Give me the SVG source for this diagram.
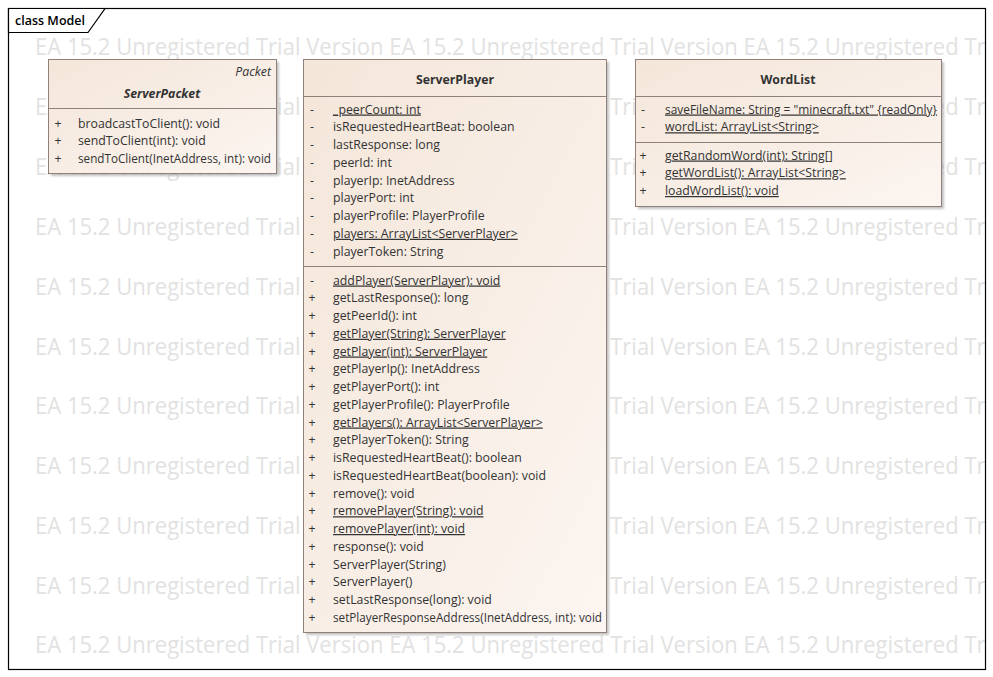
<svg xmlns="http://www.w3.org/2000/svg" width="993" height="677" viewBox="0 0 993 677">
<defs>
<linearGradient id="boxfill" x1="0" y1="0" x2="1" y2="1">
<stop offset="0" stop-color="#f4e6d9"/>
<stop offset="1" stop-color="#fcf5f1"/>
</linearGradient>
<clipPath id="frameclip"><rect x="9" y="9" width="976" height="660"/></clipPath>
<filter id="shadow" x="-10%" y="-10%" width="130%" height="130%">
<feGaussianBlur stdDeviation="1.2"/>
</filter>
<style>
.wm{font-family:"Open Sans","Liberation Sans",sans-serif;font-size:23px;fill:#e2e2e2}
.t{font-family:"Open Sans","Liberation Sans",sans-serif;font-size:12.3px;fill:#333}
.title{font-family:"Open Sans","Liberation Sans",sans-serif;font-size:12.3px;font-weight:bold;fill:#333;text-anchor:middle}
.u{text-decoration:underline}
.box{fill:url(#boxfill);stroke:#8f8079;stroke-width:1}
.sh{fill:#9a9a9a;opacity:0.6;filter:url(#shadow)}
.sep{stroke:#8f8079;stroke-width:1}
.vis{font-family:"Open Sans","Liberation Sans",sans-serif;font-size:12.3px;fill:#333;text-anchor:middle}
</style>
</defs>
<rect x="0" y="0" width="993" height="677" fill="#ffffff"/>
<g id="watermark" clip-path="url(#frameclip)">
<text class="wm" x="35" y="55" textLength="1057" lengthAdjust="spacingAndGlyphs">EA 15.2 Unregistered Trial Version EA 15.2 Unregistered Trial Version EA 15.2 Unregistered Trial Version</text>
<text class="wm" x="35" y="115" textLength="1057" lengthAdjust="spacingAndGlyphs">EA 15.2 Unregistered Trial Version EA 15.2 Unregistered Trial Version EA 15.2 Unregistered Trial Version</text>
<text class="wm" x="35" y="175" textLength="1057" lengthAdjust="spacingAndGlyphs">EA 15.2 Unregistered Trial Version EA 15.2 Unregistered Trial Version EA 15.2 Unregistered Trial Version</text>
<text class="wm" x="35" y="235" textLength="1057" lengthAdjust="spacingAndGlyphs">EA 15.2 Unregistered Trial Version EA 15.2 Unregistered Trial Version EA 15.2 Unregistered Trial Version</text>
<text class="wm" x="35" y="295" textLength="1057" lengthAdjust="spacingAndGlyphs">EA 15.2 Unregistered Trial Version EA 15.2 Unregistered Trial Version EA 15.2 Unregistered Trial Version</text>
<text class="wm" x="35" y="355" textLength="1057" lengthAdjust="spacingAndGlyphs">EA 15.2 Unregistered Trial Version EA 15.2 Unregistered Trial Version EA 15.2 Unregistered Trial Version</text>
<text class="wm" x="35" y="414" textLength="1057" lengthAdjust="spacingAndGlyphs">EA 15.2 Unregistered Trial Version EA 15.2 Unregistered Trial Version EA 15.2 Unregistered Trial Version</text>
<text class="wm" x="35" y="474" textLength="1057" lengthAdjust="spacingAndGlyphs">EA 15.2 Unregistered Trial Version EA 15.2 Unregistered Trial Version EA 15.2 Unregistered Trial Version</text>
<text class="wm" x="35" y="534" textLength="1057" lengthAdjust="spacingAndGlyphs">EA 15.2 Unregistered Trial Version EA 15.2 Unregistered Trial Version EA 15.2 Unregistered Trial Version</text>
<text class="wm" x="35" y="594" textLength="1057" lengthAdjust="spacingAndGlyphs">EA 15.2 Unregistered Trial Version EA 15.2 Unregistered Trial Version EA 15.2 Unregistered Trial Version</text>
<text class="wm" x="35" y="653" textLength="1057" lengthAdjust="spacingAndGlyphs">EA 15.2 Unregistered Trial Version EA 15.2 Unregistered Trial Version EA 15.2 Unregistered Trial Version</text>
</g>
<g id="frame">
<rect x="8.5" y="8.5" width="977" height="661" fill="none" stroke="#000" stroke-width="1.2"/>
<path d="M8.5,8.5 H105 L88,32.5 H8.5 Z" fill="#fff" stroke="#000" stroke-width="1.2"/>
<text x="15" y="25" font-family="'Open Sans','Liberation Sans',sans-serif" font-size="12.5" font-weight="600" fill="#000">class Model</text>
</g>
<g id="connectors"></g>
<g id="ServerPacket">
<rect class="sh" x="51" y="62" width="228" height="114"/>
<rect class="box" x="48.5" y="59.5" width="228" height="114"/>
<line class="sep" x1="48.5" y1="108.5" x2="276.5" y2="108.5"/>
<text class="t" x="271" y="75.5" text-anchor="end" font-style="italic">Packet</text>
<text class="title" x="162" y="97.5" font-style="italic">ServerPacket</text>
<text class="vis" x="58" y="127.5">+</text>
<text class="t" x="78" y="127.5">broadcastToClient(): void</text>
<text class="vis" x="58" y="145">+</text>
<text class="t" x="78" y="145">sendToClient(int): void</text>
<text class="vis" x="58" y="162.5">+</text>
<text class="t" x="78" y="162.5" textLength="193" lengthAdjust="spacingAndGlyphs">sendToClient(InetAddress, int): void</text>
</g>
<g id="ServerPlayer">
<rect class="sh" x="306" y="62" width="303" height="573"/>
<rect class="box" x="303.5" y="59.5" width="303" height="573"/>
<line class="sep" x1="303.5" y1="96.5" x2="606.5" y2="96.5"/>
<line class="sep" x1="303.5" y1="266.5" x2="606.5" y2="266.5"/>
<text class="title" x="455" y="83.5">ServerPlayer</text>
<text class="vis" x="312" y="113.5">-</text><text class="t u" x="333" y="113.5">_peerCount: int</text>
<text class="vis" x="312" y="131.25">-</text><text class="t" x="333" y="131.25">isRequestedHeartBeat: boolean</text>
<text class="vis" x="312" y="149">-</text><text class="t" x="333" y="149">lastResponse: long</text>
<text class="vis" x="312" y="166.75">-</text><text class="t" x="333" y="166.75">peerId: int</text>
<text class="vis" x="312" y="184.5">-</text><text class="t" x="333" y="184.5">playerIp: InetAddress</text>
<text class="vis" x="312" y="202.25">-</text><text class="t" x="333" y="202.25">playerPort: int</text>
<text class="vis" x="312" y="220">-</text><text class="t" x="333" y="220">playerProfile: PlayerProfile</text>
<text class="vis" x="312" y="237.75">-</text><text class="t u" x="333" y="237.75">players: ArrayList&lt;ServerPlayer&gt;</text>
<text class="vis" x="312" y="255.5">-</text><text class="t" x="333" y="255.5">playerToken: String</text>
<text class="vis" x="312" y="284.5">-</text><text class="t u" x="333" y="284.5">addPlayer(ServerPlayer): void</text>
<text class="vis" x="312" y="302.25">+</text><text class="t" x="333" y="302.25">getLastResponse(): long</text>
<text class="vis" x="312" y="320">+</text><text class="t" x="333" y="320">getPeerId(): int</text>
<text class="vis" x="312" y="337.75">+</text><text class="t u" x="333" y="337.75">getPlayer(String): ServerPlayer</text>
<text class="vis" x="312" y="355.5">+</text><text class="t u" x="333" y="355.5">getPlayer(int): ServerPlayer</text>
<text class="vis" x="312" y="373.25">+</text><text class="t" x="333" y="373.25">getPlayerIp(): InetAddress</text>
<text class="vis" x="312" y="391">+</text><text class="t" x="333" y="391">getPlayerPort(): int</text>
<text class="vis" x="312" y="408.75">+</text><text class="t" x="333" y="408.75">getPlayerProfile(): PlayerProfile</text>
<text class="vis" x="312" y="426.5">+</text><text class="t u" x="333" y="426.5">getPlayers(): ArrayList&lt;ServerPlayer&gt;</text>
<text class="vis" x="312" y="444.25">+</text><text class="t" x="333" y="444.25">getPlayerToken(): String</text>
<text class="vis" x="312" y="462">+</text><text class="t" x="333" y="462">isRequestedHeartBeat(): boolean</text>
<text class="vis" x="312" y="479.75">+</text><text class="t" x="333" y="479.75">isRequestedHeartBeat(boolean): void</text>
<text class="vis" x="312" y="497.5">+</text><text class="t" x="333" y="497.5">remove(): void</text>
<text class="vis" x="312" y="515.25">+</text><text class="t u" x="333" y="515.25">removePlayer(String): void</text>
<text class="vis" x="312" y="533">+</text><text class="t u" x="333" y="533">removePlayer(int): void</text>
<text class="vis" x="312" y="550.75">+</text><text class="t" x="333" y="550.75">response(): void</text>
<text class="vis" x="312" y="568.5">+</text><text class="t" x="333" y="568.5">ServerPlayer(String)</text>
<text class="vis" x="312" y="586.25">+</text><text class="t" x="333" y="586.25">ServerPlayer()</text>
<text class="vis" x="312" y="604">+</text><text class="t" x="333" y="604">setLastResponse(long): void</text>
<text class="vis" x="312" y="621.75">+</text><text class="t" x="333" y="621.75" textLength="269" lengthAdjust="spacingAndGlyphs">setPlayerResponseAddress(InetAddress, int): void</text>
</g>
<g id="WordList">
<rect class="sh" x="638" y="62" width="306" height="147"/>
<rect class="box" x="635.5" y="59.5" width="306" height="147"/>
<line class="sep" x1="635.5" y1="96.5" x2="941.5" y2="96.5"/>
<line class="sep" x1="635.5" y1="142.5" x2="941.5" y2="142.5"/>
<text class="title" x="788" y="83.5">WordList</text>
<text class="vis" x="643" y="113.5">-</text><text class="t u" x="665" y="113.5" textLength="272" lengthAdjust="spacingAndGlyphs">saveFileName: String = "minecraft.txt" {readOnly}</text>
<text class="vis" x="643" y="131.25">-</text><text class="t u" x="665" y="131.25">wordList: ArrayList&lt;String&gt;</text>
<text class="vis" x="643" y="159.5">+</text><text class="t u" x="665" y="159.5">getRandomWord(int): String[]</text>
<text class="vis" x="643" y="177.25">+</text><text class="t u" x="665" y="177.25">getWordList(): ArrayList&lt;String&gt;</text>
<text class="vis" x="643" y="195">+</text><text class="t u" x="665" y="195">loadWordList(): void</text>
</g>
</svg>
